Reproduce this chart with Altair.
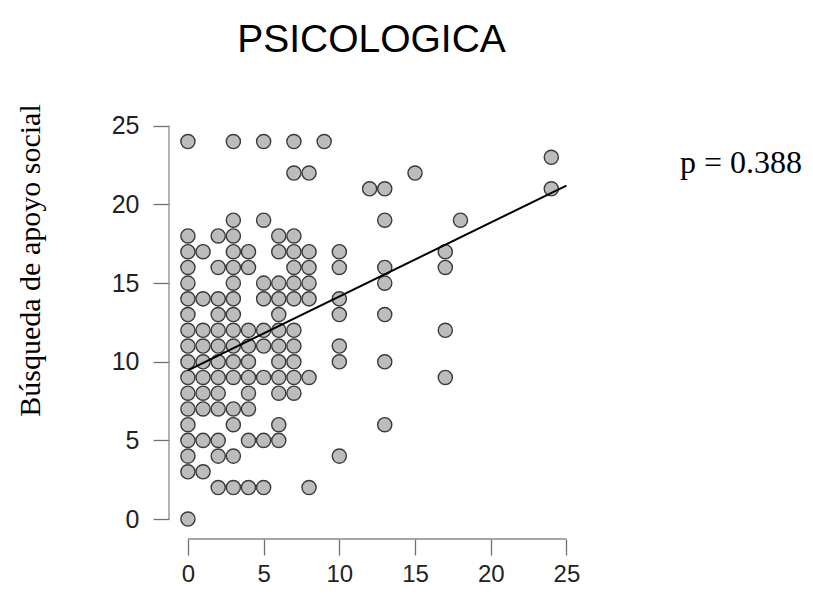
import altair as alt
import pandas as pd

# Scatter data (x value, y value)
rows_y = [24, 23, 22, 21, 19, 18, 17, 16, 15, 14, 13, 12, 11, 10, 9, 8, 7, 6, 5, 4, 3, 2, 0]
rows_x = [
    [0, 3, 5, 7, 9],
    [24],
    [7, 8, 15],
    [12, 13, 24],
    [3, 5, 13, 18],
    [0, 2, 3, 6, 7],
    [0, 1, 3, 4, 6, 7, 8, 10, 17],
    [0, 2, 3, 4, 7, 8, 10, 13, 17],
    [0, 3, 5, 6, 7, 8, 13],
    [0, 1, 2, 3, 5, 6, 7, 8, 10],
    [0, 2, 3, 6, 10, 13],
    [0, 1, 2, 3, 4, 5, 6, 7, 17],
    [0, 1, 2, 3, 4, 5, 6, 7, 10],
    [0, 1, 2, 3, 4, 6, 7, 10, 13],
    [0, 1, 2, 3, 4, 5, 6, 7, 8, 17],
    [0, 1, 2, 4, 6, 7],
    [0, 1, 2, 3, 4],
    [0, 3, 6, 13],
    [0, 1, 2, 4, 5, 6],
    [0, 2, 3, 10],
    [0, 1],
    [2, 3, 4, 5, 8],
    [0],
]

# Regression line end points
line_x = [0, 25]
line_y = [9.45, 21.2]

tick_values = [0, 5, 10, 15, 20, 25]
title_text = "PSICOLOGICA"
y_title = "Búsqueda de apoyo social"
p_text = "p = 0.388"

pts = pd.DataFrame(
    [{"x": x, "y": y} for y, xs in zip(rows_y, rows_x) for x in xs]
)
line_df = pd.DataFrame({"x": line_x, "y": line_y})
axis_df = pd.DataFrame({"a": [tick_values[0]], "b": [tick_values[-1]]})

W, H = 405, 421
xscale = alt.Scale(domain=[-1.25, 25.5], nice=False, zero=False)
yscale = alt.Scale(domain=[-1.27, 25.5], nice=False, zero=False)

axis_common = dict(
    values=tick_values,
    domain=False,
    grid=False,
    ticks=True,
    tickSize=16,
    tickColor="#707070",
    tickWidth=1.3,
    labelFont="Liberation Sans",
    labelColor="#222222",
)

xaxis = alt.Axis(title=None, labelPadding=7, labelFontSize=24, **axis_common)
yaxis = alt.Axis(
    title=y_title,
    titleFont="Liberation Serif",
    titleFontSize=30,
    titleFontWeight="normal",
    titleColor="#000000",
    titleX=-139,
    titleY=142,
    titleAngle=270,
    titleAlign="center",
    titleBaseline="middle",
    labelPadding=14,
    labelFontSize=25,
    **axis_common,
)

points = alt.Chart(pts).mark_point(
    shape="circle", filled=True, size=200, fill="#bcbcbc", stroke="#3a3a3a",
    strokeWidth=1.4, opacity=1
).encode(
    x=alt.X("x:Q", scale=xscale, axis=xaxis),
    y=alt.Y("y:Q", scale=yscale, axis=yaxis),
)

reg = alt.Chart(line_df).mark_line(color="#000000", strokeWidth=2).encode(
    x=alt.X("x:Q", scale=xscale),
    y=alt.Y("y:Q", scale=yscale),
)

xline = alt.Chart(axis_df).mark_rule(color="#8a8a8a", strokeWidth=1.3).encode(
    x=alt.X("a:Q", scale=xscale), x2="b:Q", y=alt.value(H)
)
yline = alt.Chart(axis_df).mark_rule(color="#8a8a8a", strokeWidth=1.3).encode(
    y=alt.Y("a:Q", scale=yscale), y2="b:Q", x=alt.value(0)
)

ptext = alt.Chart(pd.DataFrame({"t": [p_text]})).mark_text(
    font="Liberation Serif", fontSize=32, align="left", baseline="alphabetic",
    color="#000000"
).encode(text="t:N", x=alt.value(511), y=alt.value(55))

chart = alt.layer(xline, yline, points, reg, ptext).properties(
    width=W,
    height=H,
    background="white",
    title=alt.TitleParams(
        title_text, font="Liberation Sans", fontSize=39, fontWeight="normal",
        color="#000000", anchor="middle", offset=44
    ),
    padding={"left": 161, "top": 110, "right": 231, "bottom": 49},
    autosize=alt.AutoSizeParams(type="none"),
).configure_view(stroke="transparent", strokeWidth=0)

chart.save("out.html", embed_options={"renderer": "svg", "actions": False})
